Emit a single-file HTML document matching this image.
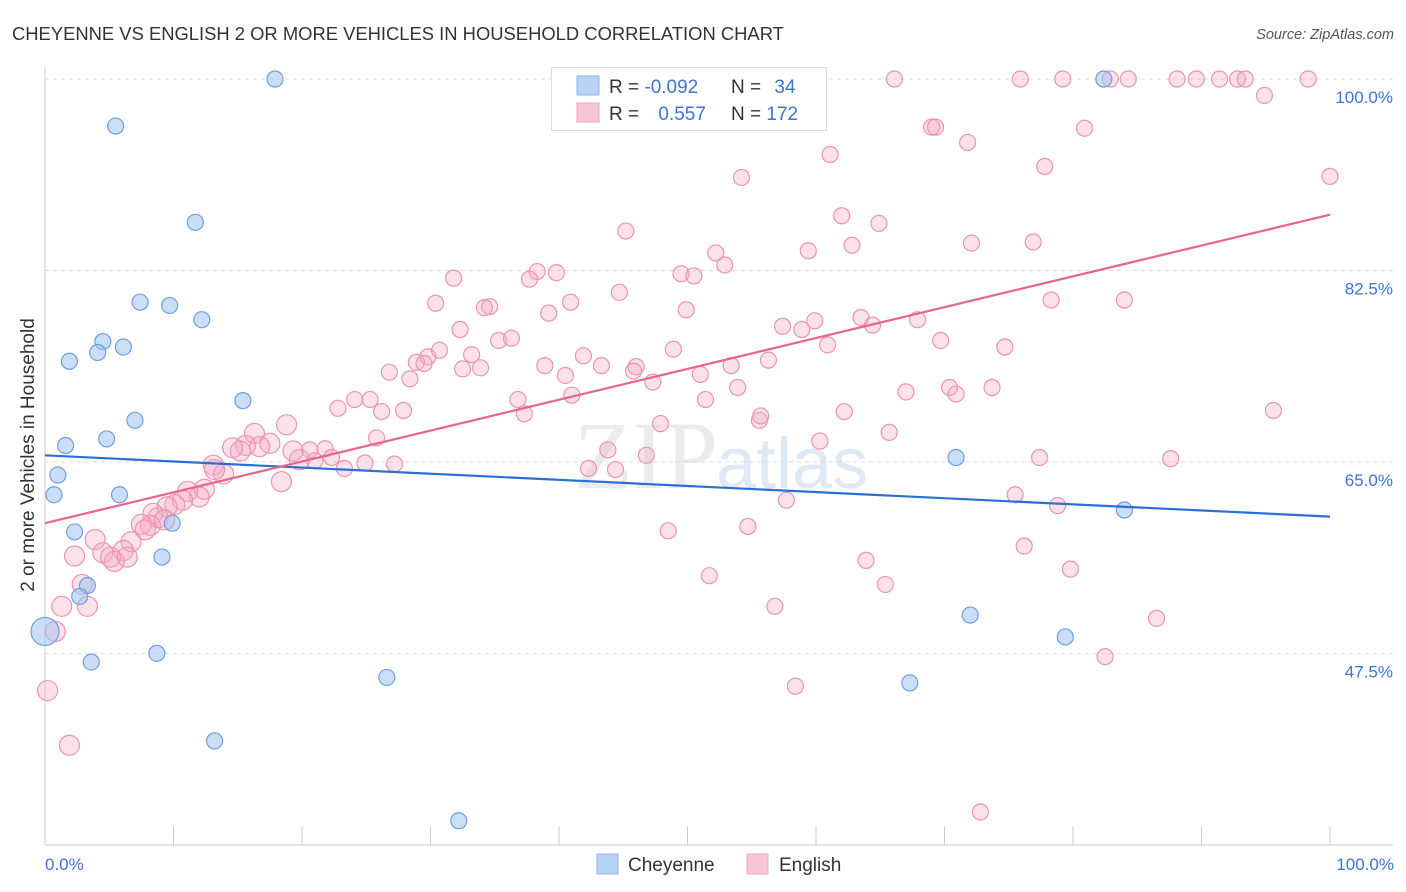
<!DOCTYPE html>
<html><head><meta charset="utf-8"><style>
body{margin:0;background:#fff;font-family:"Liberation Sans",sans-serif}
svg{display:block}
</style></head><body>
<svg id="c" width="1406" height="892" xmlns="http://www.w3.org/2000/svg">
<text x="12" y="40" font-size="18.4" fill="#333">CHEYENNE VS ENGLISH 2 OR MORE VEHICLES IN HOUSEHOLD CORRELATION CHART</text>
<text x="1394" y="39" font-size="14.5" fill="#555" font-style="italic" text-anchor="end">Source: ZipAtlas.com</text>
<text x="718" y="488" font-size="96" fill="#ebebeb" text-anchor="end" font-family="Liberation Serif">ZIP</text>
<text x="716" y="488" font-size="72" fill="#dfe8f5">atlas</text>
<g id="grid"></g>
<g id="axes"></g>
<g id="pts"></g>
<g id="lines"></g>
<text transform="translate(34,455) rotate(-90)" font-size="19" fill="#333" text-anchor="middle">2 or more Vehicles in Household</text>
<text x="45" y="870" font-size="17" fill="#3a75d0">0.0%</text>
<text x="1394" y="870" font-size="17" fill="#3a75d0" text-anchor="end">100.0%</text>
<g>
<rect x="551.5" y="67.5" width="275" height="63" fill="#fff" stroke="#ddd"/>
<rect x="577" y="76" width="22" height="19" fill="#b8d3f5" stroke="#8fb4e6"/>
<rect x="577" y="103" width="22" height="19" fill="#f8c6d6" stroke="#eea6bd"/>
<text x="609" y="93" font-size="19" fill="#333">R = <tspan fill="#3a75d0">-0.092</tspan></text>
<text x="731" y="93" font-size="19" fill="#333">N = <tspan fill="#3a75d0" dx="8">34</tspan></text>
<text x="609" y="120" font-size="19" fill="#333">R = <tspan fill="#3a75d0" dx="14">0.557</tspan></text>
<text x="731" y="120" font-size="19" fill="#333">N = <tspan fill="#3a75d0">172</tspan></text>
</g>
<g>
<rect x="597" y="854" width="21" height="20" fill="#b8d3f5" stroke="#8fb4e6"/>
<text x="628" y="871" font-size="19" fill="#333">Cheyenne</text>
<rect x="747" y="854" width="21" height="20" fill="#f8c6d6" stroke="#eea6bd"/>
<text x="779" y="871" font-size="19" fill="#333">English</text>
</g>
</svg>
<script>
const yTicks=[100,82.5,65,47.5];
const yTickLabels=["100.0%","82.5%","65.0%","47.5%"];
const xTicks=[0,10,20,30,40,50,60,70,80,90,100];
const cheyX=[17.9,5.5,11.7,7.4,9.7,12.2,4.5,4.1,6.1,1.9,15.4,7.0,4.8,1.6,1.0,0.7,5.8,9.9,2.3,9.1,3.3,2.7,0,3.6,8.7,26.6,13.2,32.2,67.3,70.9,72.0,79.4,84.0,82.4];
const cheyY=[100,95.7,86.9,79.6,79.3,78.0,76.0,75.0,75.5,74.2,70.6,68.8,67.1,66.5,63.8,62.0,62.0,59.4,58.6,56.3,53.7,52.7,49.5,46.7,47.5,45.3,39.5,32.2,44.8,65.4,51.0,49.0,60.6,100];
const engX=[66.1,75.9,79.2,82.9,84.3,88.1,89.6,91.4,92.8,93.4,98.3,94.9,69.0,69.3,61.1,71.8,80.9,54.2,77.8,100,62.0,64.9,45.2,62.8,72.1,76.9,52.2,59.4,52.9,31.8,38.3,39.8,37.7,49.5,50.5,44.7,40.9,30.4,34.6,34.2,39.2,49.9,32.3,35.3,36.3,57.4,58.9,59.9,63.5,64.4,67.9,78.3,84.0,69.7,74.7,60.9,48.9,30.7,33.2,41.9,29.8,28.9,29.5,38.9,43.3,46.0,53.4,56.3,26.8,32.5,33.9,40.5,51.0,28.4,45.8,47.3,73.7,67.0,70.4,70.9,53.9,41.0,36.8,24.1,25.3,22.8,26.2,27.9,37.3,51.4,62.2,55.6,55.7,18.8,47.9,65.7,95.6,25.8,16.3,15.6,17.5,15.2,16.7,14.6,19.3,20.6,21.8,19.8,21.0,22.3,23.3,24.9,27.2,60.3,46.8,43.8,44.4,42.3,13.1,13.9,13.2,18.4,77.4,87.6,75.5,78.8,57.7,12.4,12.0,11.1,10.7,10.1,9.5,8.4,8.8,8.2,9.3,7.5,7.8,6.7,3.9,6.1,4.5,5.4,2.3,5.1,6.4,48.5,54.7,76.2,79.8,63.9,51.7,65.4,56.8,86.5,2.9,3.3,1.3,0.8,0.2,1.9,58.4,82.5,72.8];
const engY=[100,100,100,100,100,100,100,100,100,100,100,98.5,95.6,95.6,93.1,94.2,95.5,91.0,92.0,91.1,87.5,86.8,86.1,84.8,85.0,85.1,84.1,84.3,83.0,81.8,82.4,82.3,81.7,82.2,82.0,80.5,79.6,79.5,79.2,79.1,78.6,78.9,77.1,76.1,76.3,77.4,77.1,77.9,78.2,77.5,78.0,79.8,79.8,76.1,75.5,75.7,75.3,75.2,74.8,74.7,74.6,74.1,74.0,73.8,73.8,73.7,73.8,74.3,73.2,73.5,73.6,72.9,73.0,72.6,73.3,72.3,71.8,71.4,71.8,71.2,71.8,71.1,70.7,70.7,70.7,69.9,69.6,69.7,69.4,70.7,69.6,68.8,69.2,68.4,68.5,67.7,69.7,67.2,67.6,66.5,66.7,66.0,66.4,66.3,66.0,66.1,66.2,65.2,65.1,65.4,64.4,64.9,64.8,66.9,65.6,66.1,64.3,64.4,64.7,63.9,64.3,63.2,65.4,65.3,62.0,61.0,61.5,62.5,61.8,62.3,61.5,61.1,60.9,60.3,59.9,59.2,59.7,59.3,58.8,57.7,57.9,56.9,56.7,55.9,56.4,56.3,56.3,58.7,59.1,57.3,55.2,56.0,54.6,53.8,51.8,50.7,53.8,51.8,51.8,49.5,44.1,39.1,44.5,47.2,33.0];
const cheyTrend=[65.6,60.0];
const engTrend=[59.4,87.6];
const NS="http://www.w3.org/2000/svg";
const X0=45,X1=1330,YT=79,YS=10.94;
function sx(v){return X0+(X1-X0)*v/100;}
function sy(v){return YT+(100-v)*YS;}
function mk(tag,attrs,parent){const e=document.createElementNS(NS,tag);for(const k in attrs)e.setAttribute(k,attrs[k]);parent.appendChild(e);return e;}
const grid=document.getElementById('grid'),axes=document.getElementById('axes'),pts=document.getElementById('pts'),lines=document.getElementById('lines');
yTicks.forEach((t,i)=>{
  const l=mk('line',{x1:45,x2:1393,y1:sy(t),y2:sy(t),stroke:'#ddd','stroke-dasharray':'4,4'},grid);
  
  
  const tx=mk('text',{x:1393,y:sy(t)+24,'font-size':17,fill:'#3a75d0','text-anchor':'end'},grid);
  tx.textContent=yTickLabels[i];
  
  
});
mk('line',{x1:45,x2:45,y1:67,y2:845,stroke:'#ccc'},axes);
mk('line',{x1:45,x2:1393,y1:845,y2:845,stroke:'#ccc'},axes);
xTicks.forEach(t=>{
  const l=mk('line',{x1:sx(t),x2:sx(t),y1:826,y2:845,stroke:'#ccc'},axes);
  
  
});
engX.forEach((x,i)=>{
  const c=mk('circle',{cx:sx(x),cy:sy(engY[i]),r:x<20?10:8,fill:'rgba(245,170,195,0.35)',stroke:'#eb93b0','stroke-width':1.2},pts);
  
  
});
cheyX.forEach((x,i)=>{
  const c=mk('circle',{cx:sx(x),cy:sy(cheyY[i]),r:(x===0)?14:8,fill:'rgba(160,195,240,0.55)',stroke:'#6f9fdf','stroke-width':1.2},pts);
  
  
});
const lb=mk('line',{x1:sx(0),y1:sy(cheyTrend[0]),x2:sx(100),y2:sy(cheyTrend[1]),stroke:'#2a6fd6','stroke-width':2.2},lines);


const lp=mk('line',{x1:sx(0),y1:sy(engTrend[0]),x2:sx(100),y2:sy(engTrend[1]),stroke:'#e8648f','stroke-width':2.2},lines);


</script>
</body></html>
